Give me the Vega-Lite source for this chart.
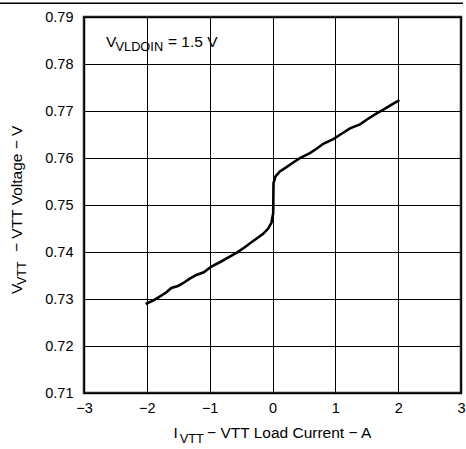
{
  "$schema": "https://vega.github.io/schema/vega-lite/v6.json",
  "autosize": "none",
  "padding": {"left": 84, "top": 17, "right": 5, "bottom": 55},
  "width": 377,
  "height": 376,
  "background": "white",
  "config": {
    "font": "Liberation Sans",
    "view": {"stroke": "#222", "strokeWidth": 2.5},
    "axis": {
      "grid": true, "gridColor": "#000", "gridWidth": 1, "gridOpacity": 1,
      "ticks": false, "domain": false, "labelFlush": false,
      "labelFont": "Liberation Sans", "labelFontSize": 14.5, "labelColor": "#000"
    }
  },
  "data": {
    "values": [
      {"i": -2.019, "v": 0.72894}, {"i": -1.902, "v": 0.72966}, {"i": -1.795, "v": 0.73051},
      {"i": -1.689, "v": 0.73143}, {"i": -1.610, "v": 0.73235}, {"i": -1.503, "v": 0.73278},
      {"i": -1.424, "v": 0.73335}, {"i": -1.317, "v": 0.73434}, {"i": -1.211, "v": 0.73512},
      {"i": -1.094, "v": 0.73569}, {"i": -0.972, "v": 0.73690}, {"i": -0.839, "v": 0.73782},
      {"i": -0.680, "v": 0.73903}, {"i": -0.574, "v": 0.73981}, {"i": -0.441, "v": 0.74102},
      {"i": -0.335, "v": 0.74208}, {"i": -0.229, "v": 0.74308}, {"i": -0.149, "v": 0.74386},
      {"i": -0.069, "v": 0.74499}, {"i": -0.016, "v": 0.74627}, {"i": 0.011, "v": 0.74826},
      {"i": 0.016, "v": 0.75465}, {"i": 0.048, "v": 0.75607}, {"i": 0.117, "v": 0.75714},
      {"i": 0.223, "v": 0.75806}, {"i": 0.329, "v": 0.75905}, {"i": 0.436, "v": 0.75998},
      {"i": 0.595, "v": 0.76104}, {"i": 0.701, "v": 0.76196}, {"i": 0.808, "v": 0.76303},
      {"i": 0.967, "v": 0.76402}, {"i": 1.100, "v": 0.76516}, {"i": 1.233, "v": 0.76630},
      {"i": 1.392, "v": 0.76715}, {"i": 1.498, "v": 0.76814}, {"i": 1.631, "v": 0.76928},
      {"i": 1.764, "v": 0.77027}, {"i": 1.896, "v": 0.77134}, {"i": 2.019, "v": 0.77233}
    ]
  },
  "encoding": {
    "x": {
      "field": "i", "type": "quantitative",
      "scale": {"domain": [-3, 3], "nice": false, "zero": false},
      "axis": {"values": [-3, -2, -1, 0, 1, 2, 3], "format": "d", "title": null, "labelPadding": 8}
    },
    "y": {
      "field": "v", "type": "quantitative",
      "scale": {"domain": [0.71, 0.79], "nice": false, "zero": false},
      "axis": {"values": [0.71, 0.72, 0.73, 0.74, 0.75, 0.76, 0.77, 0.78, 0.79], "format": ".2f", "title": null, "labelPadding": 11}
    }
  },
  "layer": [
    {
      "mark": {"type": "line", "color": "#000", "strokeWidth": 2.6, "clip": true},
      "encoding": {"order": {"value": null}}
    },
    {
      "data": {"values": [{"x": -4.337, "x2": 3.032, "y": 0.79291}]},
      "mark": {"type": "rule", "color": "#000", "strokeWidth": 1.5},
      "encoding": {
        "x": {"field": "x", "type": "quantitative"},
        "x2": {"field": "x2"},
        "y": {"field": "y", "type": "quantitative"}
      }
    },
    {
      "data": {"values": [
        {"x": -2.650, "y": 0.78368, "t": "V"},
        {"x": -1.663, "y": 0.78368, "t": "= 1.5 V"},
        {"x": -1.574, "y": 0.70043, "t": "I"},
        {"x": -1.042, "y": 0.70043, "t": "− VTT Load Current − A"}
      ]},
      "mark": {"type": "text", "align": "left", "baseline": "alphabetic", "fontSize": 15.5, "color": "#000"},
      "encoding": {
        "x": {"field": "x", "type": "quantitative"},
        "y": {"field": "y", "type": "quantitative"},
        "text": {"field": "t"}
      }
    },
    {
      "data": {"values": [
        {"x": -2.499, "y": 0.78283, "t": "VLDOIN"},
        {"x": -1.478, "y": 0.69936, "t": "VTT"}
      ]},
      "mark": {"type": "text", "align": "left", "baseline": "alphabetic", "fontSize": 12.8, "color": "#000"},
      "encoding": {
        "x": {"field": "x", "type": "quantitative"},
        "y": {"field": "y", "type": "quantitative"},
        "text": {"field": "t"}
      }
    },
    {
      "data": {"values": [
        {"x": -3.987, "y": 0.73106, "t": "V"},
        {"x": -3.987, "y": 0.74000, "t": "− VTT Voltage − V"}
      ]},
      "mark": {"type": "text", "align": "left", "baseline": "alphabetic", "angle": 270, "fontSize": 15.5, "color": "#000"},
      "encoding": {
        "x": {"field": "x", "type": "quantitative"},
        "y": {"field": "y", "type": "quantitative"},
        "text": {"field": "t"}
      }
    },
    {
      "data": {"values": [
        {"x": -3.931, "y": 0.73298, "t": "VTT"}
      ]},
      "mark": {"type": "text", "align": "left", "baseline": "alphabetic", "angle": 270, "fontSize": 12.5, "color": "#000"},
      "encoding": {
        "x": {"field": "x", "type": "quantitative"},
        "y": {"field": "y", "type": "quantitative"},
        "text": {"field": "t"}
      }
    }
  ]
}
